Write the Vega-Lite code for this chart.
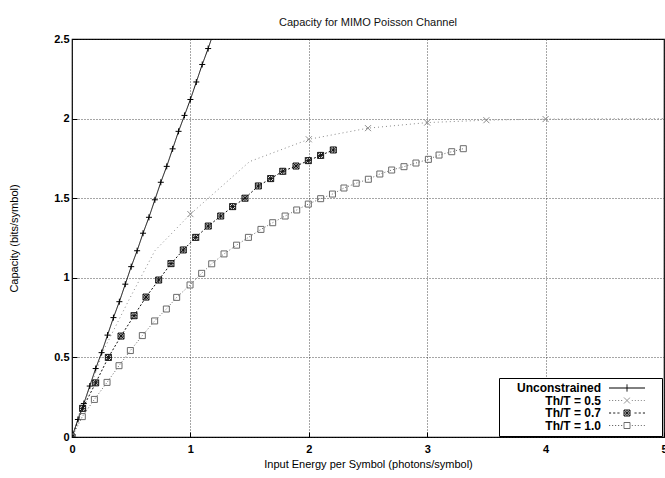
{
  "$schema": "https://vega.github.io/schema/vega-lite/v6.json",
  "width": 592,
  "height": 398,
  "autosize": {"type": "none"},
  "padding": {"left": 72, "top": 39, "right": 1, "bottom": 41},
  "background": "white",
  "title": {"text": "Capacity for MIMO Poisson Channel", "fontSize": 11, "font": "Liberation Sans", "fontWeight": "normal", "offset": 5, "color": "#111"},
  "config": {"view": {"stroke": "black", "strokeWidth": 1.2}, "font": "Liberation Sans"},
  "data": {"values": [
    {"series": "Unconstrained", "x": 0, "y": 0},
    {"series": "Unconstrained", "x": 0.05, "y": 0.11},
    {"series": "Unconstrained", "x": 0.1, "y": 0.21},
    {"series": "Unconstrained", "x": 0.15, "y": 0.32},
    {"series": "Unconstrained", "x": 0.2, "y": 0.43},
    {"series": "Unconstrained", "x": 0.25, "y": 0.53},
    {"series": "Unconstrained", "x": 0.3, "y": 0.64},
    {"series": "Unconstrained", "x": 0.35, "y": 0.75},
    {"series": "Unconstrained", "x": 0.4, "y": 0.85},
    {"series": "Unconstrained", "x": 0.45, "y": 0.96},
    {"series": "Unconstrained", "x": 0.5, "y": 1.07},
    {"series": "Unconstrained", "x": 0.55, "y": 1.17},
    {"series": "Unconstrained", "x": 0.6, "y": 1.28},
    {"series": "Unconstrained", "x": 0.65, "y": 1.38},
    {"series": "Unconstrained", "x": 0.7, "y": 1.49},
    {"series": "Unconstrained", "x": 0.75, "y": 1.6},
    {"series": "Unconstrained", "x": 0.8, "y": 1.7},
    {"series": "Unconstrained", "x": 0.85, "y": 1.81},
    {"series": "Unconstrained", "x": 0.9, "y": 1.92},
    {"series": "Unconstrained", "x": 0.95, "y": 2.02},
    {"series": "Unconstrained", "x": 1.0, "y": 2.12},
    {"series": "Unconstrained", "x": 1.05, "y": 2.23},
    {"series": "Unconstrained", "x": 1.1, "y": 2.34},
    {"series": "Unconstrained", "x": 1.15, "y": 2.44},
    {"series": "Unconstrained", "x": 1.2, "y": 2.55},
    {"series": "Th/T = 0.5", "x": 0, "y": 0},
    {"series": "Th/T = 0.5", "x": 0.27, "y": 0.55},
    {"series": "Th/T = 0.5", "x": 0.48, "y": 0.86},
    {"series": "Th/T = 0.5", "x": 0.7, "y": 1.17},
    {"series": "Th/T = 0.5", "x": 1, "y": 1.4},
    {"series": "Th/T = 0.5", "x": 1.5, "y": 1.73},
    {"series": "Th/T = 0.5", "x": 2, "y": 1.87},
    {"series": "Th/T = 0.5", "x": 2.5, "y": 1.94},
    {"series": "Th/T = 0.5", "x": 3, "y": 1.975},
    {"series": "Th/T = 0.5", "x": 3.5, "y": 1.99},
    {"series": "Th/T = 0.5", "x": 4, "y": 1.997},
    {"series": "Th/T = 0.5", "x": 4.5, "y": 1.999},
    {"series": "Th/T = 0.5", "x": 5, "y": 2.0},
    {"series": "Th/T = 0.7", "x": 0, "y": 0},
    {"series": "Th/T = 0.7", "x": 0.09, "y": 0.18},
    {"series": "Th/T = 0.7", "x": 0.2, "y": 0.34},
    {"series": "Th/T = 0.7", "x": 0.307, "y": 0.5},
    {"series": "Th/T = 0.7", "x": 0.414, "y": 0.634},
    {"series": "Th/T = 0.7", "x": 0.524, "y": 0.762},
    {"series": "Th/T = 0.7", "x": 0.625, "y": 0.879},
    {"series": "Th/T = 0.7", "x": 0.732, "y": 0.986},
    {"series": "Th/T = 0.7", "x": 0.836, "y": 1.089},
    {"series": "Th/T = 0.7", "x": 0.94, "y": 1.175},
    {"series": "Th/T = 0.7", "x": 1.045, "y": 1.254},
    {"series": "Th/T = 0.7", "x": 1.151, "y": 1.325},
    {"series": "Th/T = 0.7", "x": 1.256, "y": 1.388},
    {"series": "Th/T = 0.7", "x": 1.357, "y": 1.447},
    {"series": "Th/T = 0.7", "x": 1.461, "y": 1.5},
    {"series": "Th/T = 0.7", "x": 1.574, "y": 1.577},
    {"series": "Th/T = 0.7", "x": 1.678, "y": 1.623},
    {"series": "Th/T = 0.7", "x": 1.78, "y": 1.669},
    {"series": "Th/T = 0.7", "x": 1.892, "y": 1.702},
    {"series": "Th/T = 0.7", "x": 1.996, "y": 1.736},
    {"series": "Th/T = 0.7", "x": 2.1, "y": 1.769},
    {"series": "Th/T = 0.7", "x": 2.207, "y": 1.803},
    {"series": "Th/T = 1.0", "x": 0, "y": 0},
    {"series": "Th/T = 1.0", "x": 0.087, "y": 0.128},
    {"series": "Th/T = 1.0", "x": 0.189, "y": 0.236},
    {"series": "Th/T = 1.0", "x": 0.296, "y": 0.343},
    {"series": "Th/T = 1.0", "x": 0.397, "y": 0.448},
    {"series": "Th/T = 1.0", "x": 0.493, "y": 0.543},
    {"series": "Th/T = 1.0", "x": 0.594, "y": 0.637},
    {"series": "Th/T = 1.0", "x": 0.698, "y": 0.729},
    {"series": "Th/T = 1.0", "x": 0.797, "y": 0.804},
    {"series": "Th/T = 1.0", "x": 0.884, "y": 0.877},
    {"series": "Th/T = 1.0", "x": 0.997, "y": 0.955},
    {"series": "Th/T = 1.0", "x": 1.095, "y": 1.028},
    {"series": "Th/T = 1.0", "x": 1.18, "y": 1.088},
    {"series": "Th/T = 1.0", "x": 1.284, "y": 1.15},
    {"series": "Th/T = 1.0", "x": 1.39, "y": 1.205},
    {"series": "Th/T = 1.0", "x": 1.49, "y": 1.254},
    {"series": "Th/T = 1.0", "x": 1.596, "y": 1.304},
    {"series": "Th/T = 1.0", "x": 1.695, "y": 1.346},
    {"series": "Th/T = 1.0", "x": 1.8, "y": 1.388},
    {"series": "Th/T = 1.0", "x": 1.898, "y": 1.426},
    {"series": "Th/T = 1.0", "x": 1.996, "y": 1.463},
    {"series": "Th/T = 1.0", "x": 2.1, "y": 1.497},
    {"series": "Th/T = 1.0", "x": 2.2, "y": 1.526},
    {"series": "Th/T = 1.0", "x": 2.297, "y": 1.564},
    {"series": "Th/T = 1.0", "x": 2.4, "y": 1.594},
    {"series": "Th/T = 1.0", "x": 2.503, "y": 1.619},
    {"series": "Th/T = 1.0", "x": 2.6, "y": 1.652},
    {"series": "Th/T = 1.0", "x": 2.7, "y": 1.677},
    {"series": "Th/T = 1.0", "x": 2.804, "y": 1.698},
    {"series": "Th/T = 1.0", "x": 2.905, "y": 1.721},
    {"series": "Th/T = 1.0", "x": 3.01, "y": 1.744},
    {"series": "Th/T = 1.0", "x": 3.1, "y": 1.771},
    {"series": "Th/T = 1.0", "x": 3.207, "y": 1.792},
    {"series": "Th/T = 1.0", "x": 3.305, "y": 1.811}
  ]},
  "layer": [
    {
      "mark": {"type": "line", "clip": true, "strokeWidth": 1},
      "encoding": {
        "x": {"field": "x", "type": "quantitative",
          "scale": {"domain": [0, 5], "nice": false},
          "axis": {"title": "Input Energy per Symbol (photons/symbol)", "values": [0, 1, 2, 3, 4, 5], "format": "d",
            "grid": true, "gridDash": [1, 2], "gridColor": "#222", "gridOpacity": 0.8, "gridWidth": 1,
            "domain": false, "tickSize": -5, "tickColor": "black",
            "labelFontSize": 11, "labelFontWeight": "bold", "labelColor": "black", "labelPadding": 11, "labelFlush": false,
            "titleFontSize": 11, "titleFontWeight": "normal", "titleColor": "black", "titlePadding": 4}},
        "y": {"field": "y", "type": "quantitative",
          "scale": {"domain": [0, 2.5], "nice": false},
          "axis": {"title": "Capacity (bits/symbol)", "values": [0, 0.5, 1, 1.5, 2, 2.5], "format": "~g",
            "grid": true, "gridDash": [1, 2], "gridColor": "#222", "gridOpacity": 0.8, "gridWidth": 1,
            "domain": false, "tickSize": -5, "tickColor": "black",
            "labelFontSize": 11, "labelFontWeight": "bold", "labelColor": "black", "labelPadding": 8, "labelFlush": false,
            "titleFontSize": 11, "titleFontWeight": "normal", "titleColor": "black", "titlePadding": 34}},
        "color": {"field": "series", "type": "nominal",
          "scale": {"domain": ["Unconstrained", "Th/T = 0.5", "Th/T = 0.7", "Th/T = 1.0"], "range": ["#000000", "#8a8a8a", "#111111", "#6a6a6a"]},
          "legend": {"orient": "none", "legendX": 427, "legendY": 339, "title": null, "fillColor": "white", "strokeColor": "black", "padding": 4,
            "labelFont": "Liberation Sans", "labelFontSize": 12, "labelFontWeight": "bold", "labelColor": "black", "rowPadding": 0.5, "symbolSize": 36,
            "encode": {
              "symbols": {"update": {
                "shape": {"signal": "datum.value == 'Unconstrained' ? 'M-6,0H6M0,-1.2V1.2M9.5,0' : datum.value == 'Th/T = 0.5' ? 'M-6,0H-5.6M-5,0H-4.6M-4,0H-3.6M-3,0H-2.6M-2,0H-1.6M1.6,0H2M2.6,0H3M3.6,0H4M4.6,0H5M5.6,0H6M-1,-1L1,1M-1,1L1,-1M9.5,0' : datum.value == 'Th/T = 0.7' ? 'M-6,0H-5.3M-4.6,0H-3.9M-3.2,0H-2.5M2.5,0H3.2M3.9,0H4.6M5.3,0H6M-1,-1H1V1H-1ZM-1,-1L1,1M-1,1L1,-1M0,-1V1M-1,0H1M9.5,0' : 'M-6,0H-5.6M-5,0H-4.6M-4,0H-3.6M-3,0H-2.6M-2,0H-1.6M1.6,0H2M2.6,0H3M3.6,0H4M4.6,0H5M5.6,0H6M-1,-1H1V1H-1ZM9.5,0'"},
                "x": {"value": 124},
                "strokeWidth": {"value": 1},
                "strokeDash": {"value": [1, 0]},
                "fill": {"value": "transparent"}
              }},
              "labels": {"update": {"x": {"value": 98}, "align": {"value": "right"}}}
            }}},
        "strokeDash": {"field": "series", "type": "nominal",
          "scale": {"domain": ["Th/T = 1.0", "Th/T = 0.7", "Th/T = 0.5", "Unconstrained"], "range": [[1, 2], [2, 2], [1, 3], [1, 0]]},
          "legend": null}
      }
    },
    {
      "transform": [{"filter": "datum.series != 'Th/T = 0.5' || indexof([0, 1, 2, 2.5, 3, 3.5, 4], datum.x) >= 0"}],
      "mark": {"type": "point", "clip": true, "filled": false, "size": 36, "strokeWidth": 1, "opacity": 1},
      "encoding": {
        "x": {"field": "x", "type": "quantitative"},
        "y": {"field": "y", "type": "quantitative"},
        "color": {"field": "series", "type": "nominal"},
        "shape": {"field": "series", "type": "nominal",
          "scale": {"domain": ["Th/T = 0.5", "Th/T = 0.7", "Th/T = 1.0", "Unconstrained"],
            "range": ["M-1,-1L1,1M-1,1L1,-1", "M-1,-1H1V1H-1ZM-1,-1L1,1M-1,1L1,-1M0,-1V1M-1,0H1", "M-1,-1H1V1H-1Z", "M-1,0H1M0,-1V1"]},
          "legend": null}
      }
    }
  ]
}
